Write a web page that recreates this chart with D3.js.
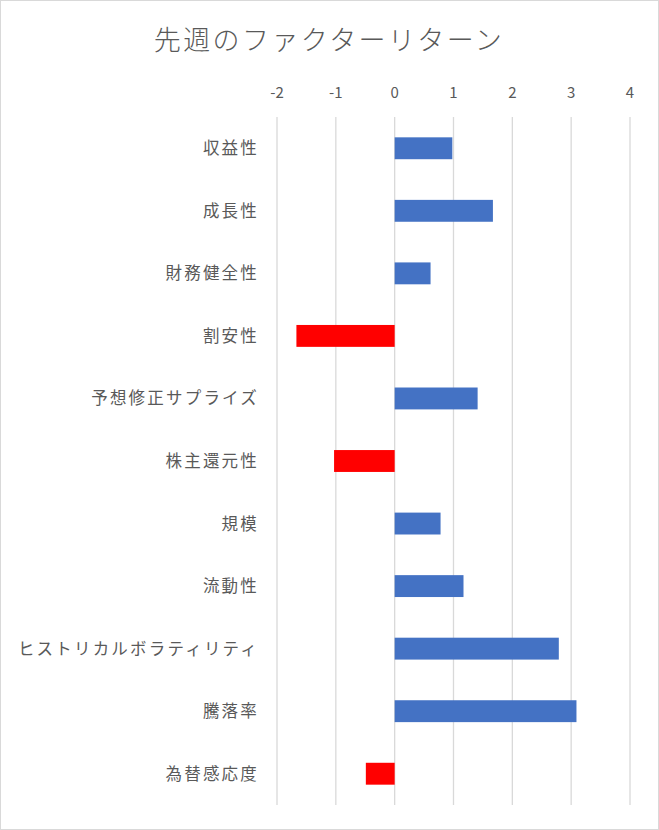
<!DOCTYPE html>
<html>
<head>
<meta charset="utf-8">
<script src="https://cdn.jsdelivr.net/npm/d3@7"></script>
<style>
body { margin: 0; background: #fff; }
svg text { font-family: "Noto Sans CJK JP", "Noto Sans", sans-serif; fill: #595959; }
</style>
</head>
<body>
<svg id="chart" width="659" height="830"></svg>
<script>
const categories = ["収益性", "成長性", "財務健全性", "割安性", "予想修正サプライズ", "株主還元性",
    "規模", "流動性", "ヒストリカルボラティリティ", "騰落率", "為替感応度"];
const values = [0.98, 1.67, 0.61, -1.67, 1.41, -1.03, 0.78, 1.17, 2.79, 3.09, -0.49];
const tickValues = [-2, -1, 0, 1, 2, 3, 4];

const svg = d3.select("#chart");
svg.append("rect").attr("x", 0.5).attr("y", 0.5).attr("width", 658).attr("height", 829)
    .attr("fill", "#fff").attr("stroke", "#d9d9d9");

svg.append("text").attr("x", 329).attr("y", 50).attr("text-anchor", "middle")
    .attr("font-size", 27).attr("font-weight", 300).attr("letter-spacing", 2.4)
    .text("先週のファクターリターン");

const x = d3.scaleLinear().domain([-2, 4]).range([277, 630]);
const y = d3.scaleBand().domain(categories).range([117, 805]).paddingInner(0.65).paddingOuter(0.325);

svg.append("g").selectAll("line").data(tickValues).enter().append("line")
    .attr("x1", d => x(d)).attr("x2", d => x(d))
    .attr("y1", 117).attr("y2", 805)
    .attr("stroke", "#d9d9d9").attr("stroke-width", 1.3);

svg.append("g").selectAll("text").data(tickValues).enter().append("text")
    .attr("x", d => x(d)).attr("y", 98).attr("text-anchor", "middle")
    .attr("font-size", 15).text(d => d);

svg.append("g").selectAll("rect").data(values).enter().append("rect")
    .attr("x", d => x(Math.min(0, d)))
    .attr("width", d => Math.abs(x(d) - x(0)))
    .attr("y", (d, i) => y(categories[i]))
    .attr("height", y.bandwidth())
    .attr("fill", d => d < 0 ? "#ff0000" : "#4472c4");

svg.append("g").selectAll("text").data(categories).enter().append("text")
    .attr("x", 259).attr("y", d => y(d) + y.bandwidth() / 2 + 6)
    .attr("text-anchor", "end").attr("font-size", 16.5).attr("letter-spacing", 2.2)
    .text(d => d);
</script>
</body>
</html>
